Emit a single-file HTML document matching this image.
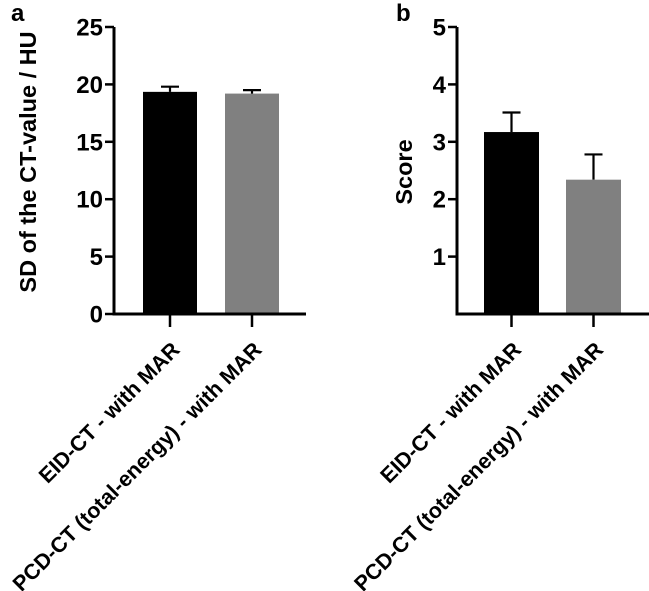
<!DOCTYPE html>
<html><head><meta charset="utf-8"><style>
html,body{margin:0;padding:0;background:#fff;}
svg{display:block;font-family:"Liberation Sans",sans-serif;font-weight:bold;}
</style></head><body>
<svg id="c" width="649" height="591" viewBox="0 0 649 591"></svg>
<script>
const categories = ["EID-CT - with MAR", "PCD-CT (total-energy) - with MAR"];
const sdValues = [19.35, 19.2];
const sdErrors = [0.45, 0.3];
const scoreValues = [3.17, 2.34];
const scoreErrors = [0.34, 0.44];
const sdTicks = [0, 5, 10, 15, 20, 25];
const scoreTicks = [1, 2, 3, 4, 5];
const colors = ["#000000", "#808080"];

const NS = "http://www.w3.org/2000/svg";
const svg = document.getElementById("c");
function mk(tag, attrs, parent) {
  const e = document.createElementNS(NS, tag);
  for (const k in attrs) e.setAttribute(k, attrs[k]);
  (parent || svg).appendChild(e);
  return e;
}

function panel(cfg) {
  const g = mk("g", {});
  
  
  const y = v => cfg.y0 - (v - 0) / cfg.max * (cfg.y0 - cfg.yTop);
  cfg.values.forEach((v, i) => {
    const x0 = cfg.barX[i], w = cfg.barW, cx = x0 + w / 2;
    const r = mk("rect", {x: x0, y: y(v), width: w, height: cfg.y0 - y(v), fill: colors[i]}, g);
    
    
    const top = y(v + cfg.errors[i]);
    const eb = mk("path", {d: `M${cx},${y(v)}V${top}M${cx - 9},${top}H${cx + 9}`, stroke: "#000", "stroke-width": 2.2, fill: "none"}, g);
    
    
    const t = mk("line", {x1: cx, x2: cx, y1: cfg.y0, y2: cfg.y0 + 13, stroke: "#000", "stroke-width": 2.5}, g);
    
    
    const lx = cx + 11, ly = cfg.y0 + 37;
    const tx = mk("text", {x: lx, y: ly, "text-anchor": "end", "font-size": 21.5, transform: `rotate(-45 ${lx} ${ly})`, fill: "#000"}, g);
    tx.textContent = categories[i];
    
    
  });
  const ax = mk("path", {d: `M${cfg.axX},${cfg.yTop}V${cfg.y0}H${cfg.axEnd}`, stroke: "#000", "stroke-width": 3, fill: "none"}, g);
  
  
  cfg.ticks.forEach(tv => {
    const l = mk("line", {x1: cfg.axX - 9, x2: cfg.axX, y1: y(tv), y2: y(tv), stroke: "#000", "stroke-width": 2.5}, g);
    
    
    const t = mk("text", {x: cfg.axX - 11, y: y(tv) + 8.5, "text-anchor": "end", "font-size": 24, fill: "#000"}, g);
    t.textContent = tv;
    
    
  });
  const yt = mk("text", {x: cfg.titleX, y: cfg.titleY, "text-anchor": "middle", "font-size": 23.5, transform: `rotate(-90 ${cfg.titleX} ${cfg.titleY})`, fill: "#000"}, g);
  yt.textContent = cfg.title;
  
  
  const pl = mk("text", {x: cfg.letterX, y: 21, "font-size": 24, fill: "#000"}, g);
  pl.textContent = cfg.letter;
  
  
}

panel({name: "panel-a", values: sdValues, errors: sdErrors, ticks: sdTicks, max: 25,
  y0: 314, yTop: 27, axX: 114, axEnd: 306, barX: [143, 225], barW: 54,
  title: "SD of the CT-value / HU", titleX: 36, titleY: 162, letter: "a", letterX: 11});
panel({name: "panel-b", values: scoreValues, errors: scoreErrors, ticks: scoreTicks, max: 5,
  y0: 314, yTop: 27, axX: 457, axEnd: 649, barX: [484, 566], barW: 55,
  title: "Score", titleX: 412, titleY: 172, letter: "b", letterX: 396});
</script>
</body></html>
